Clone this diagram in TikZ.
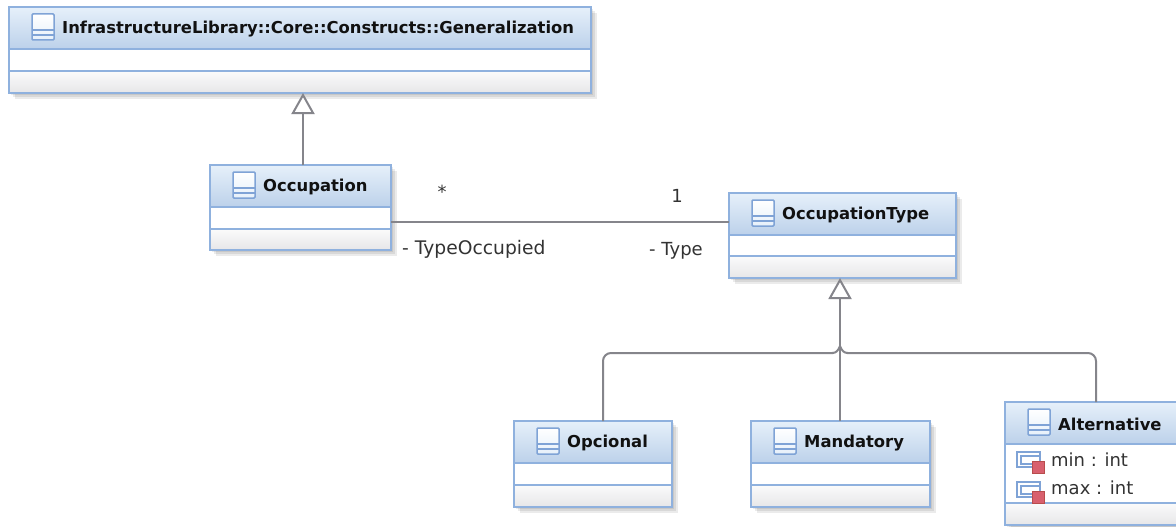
\documentclass[tikz,border=0pt]{standalone}
\usepackage{fontspec}
\setmainfont{DejaVu Sans}
\usetikzlibrary{arrows.meta,calc}
\definecolor{edgeblue}{HTML}{8FB1DE}
\definecolor{headtop}{HTML}{E6F0FA}
\definecolor{headbot}{HTML}{BCD1EA}
\definecolor{foottop}{HTML}{FBFBFB}
\definecolor{footbot}{HTML}{E6E6E8}
\definecolor{iconblue}{HTML}{7FA3D6}
\definecolor{connector}{HTML}{85858B}
\definecolor{redsq}{HTML}{D8606E}
\definecolor{textcol}{HTML}{111111}
\tikzset{
  x=1pt,y=-1pt,
  classbody/.style={draw=edgeblue,line width=1.7pt,fill=white,inner sep=0pt,outer sep=0pt},
  headfill/.style={top color=headtop,bottom color=headbot,draw=edgeblue,line width=1.7pt},
  footfill/.style={top color=foottop,bottom color=footbot,draw=edgeblue,line width=1.7pt},
  shade1/.style={fill=black,opacity=.08},
  titletext/.style={anchor=west,inner sep=0pt,font=\fontsize{16.4}{18}\selectfont\bfseries,text=textcol},
  plaintext/.style={anchor=west,inner sep=0pt,font=\fontsize{18}{20}\selectfont,text=black!80},
  conn/.style={draw=connector,line width=2pt},
  gen/.style={conn,-{Triangle[open,length=21pt,width=23pt,fill=white]}},
}
\newcommand{\classicon}[2]{%
  \draw[iconblue,line width=1.5pt,rounded corners=1pt,top color=white,bottom color=headtop] (#1,#2) rectangle ++(22,26);
  \draw[iconblue,line width=1.2pt] (#1,#2+16) -- ++(22,0) (#1,#2+21) -- ++(22,0);
}
\newcommand{\attricon}[2]{%
  \draw[iconblue,line width=1.4pt,fill=white] (#1,#2) rectangle ++(23,15);
  \draw[iconblue,line width=1.4pt] (#1+4,#2+4) rectangle ++(19,8);
  \fill[redsq,draw=red!60!black!70] (#1+15,#2+9) rectangle ++(12,12);
}
% id, x1, y1, x2, y2, header bottom, rule y, title
\newcommand{\umlclass}[8]{%
  \fill[shade1] (#2+6,#3+6) rectangle (#4+6,#5+6);
  \fill[shade1] (#2+4,#3+4) rectangle (#4+4,#5+4);
  \fill[shade1] (#2+2,#3+2) rectangle (#4+2,#5+2);
  \pgfmathsetmacro{\cxx}{(#2+#4)/2}\pgfmathsetmacro{\cyy}{(#3+#5)/2}
  \pgfmathsetmacro{\ww}{#4-#2}\pgfmathsetmacro{\hh}{#5-#3}
  \node[classbody,minimum width=\ww pt,minimum height=\hh pt] (#1) at (\cxx,\cyy) {};
  \draw[headfill] (#2,#3) rectangle (#4,#6);
  \draw[footfill] (#2,#7) rectangle (#4,#5);
  \classicon{#2+23}{#3+7}
  \node[titletext] (#1title) at (#2+53,#3+22) {#8};
}
\begin{document}
\begin{tikzpicture}
\useasboundingbox (0,0) rectangle (1176,527);
\fill[white] (0,0) rectangle (1176,527);
\begin{scope}
\clip (0,0) rectangle (1176,527);
\umlclass{genbase}{9}{7}{591}{93}{49}{71}{InfrastructureLibrary::Core::Constructs::Generalization}
\umlclass{occ}{210}{165}{391}{250}{207}{229}{Occupation}
\umlclass{otype}{729}{193}{956}{278}{235}{256}{OccupationType}
\umlclass{opc}{514}{421}{672}{507}{463}{485}{Opcional}
\umlclass{man}{751}{421}{930}{507}{463}{485}{Mandatory}
\umlclass{alt}{1005}{402}{1189}{525}{444}{503}{Alternative}
\attricon{1017}{452}
\attricon{1017}{482}
\node[plaintext] (minattr) at (1051,460) {min : int};
\node[plaintext] (maxattr) at (1051,488) {max : int};
\end{scope}
% generalizations
\draw[gen] ([xshift=2.5pt]occ.north) -- ([xshift=3pt]genbase.south);
\draw[gen] ([xshift=-0.5pt]man.north) -- ([xshift=-2.5pt]otype.south);
\draw[conn,rounded corners=8pt] ([xshift=10pt]opc.north) |- (833,353);
\draw[conn] (832,353) .. controls (836,353) and (838,351) .. (840,346);
\draw[conn,rounded corners=8pt] ([xshift=-1pt]alt.north) |- (847,353);
\draw[conn] (848,353) .. controls (844,353) and (842,351) .. (840,346);
% association
\draw[conn,line width=1.6pt] ([yshift=-14.5pt]occ.east) -- ([yshift=13.5pt]otype.west);
\node[plaintext,anchor=center] (manystar) at (442,192) {*};
\node[plaintext,anchor=center] (onelabel) at (677,196) {1};
\node[plaintext,font=\fontsize{18.7}{20}\selectfont] (roleocc) at (402,249) {- TypeOccupied};
\node[plaintext] (roletype) at (649,251) {- Type};
\end{tikzpicture}
\end{document}
